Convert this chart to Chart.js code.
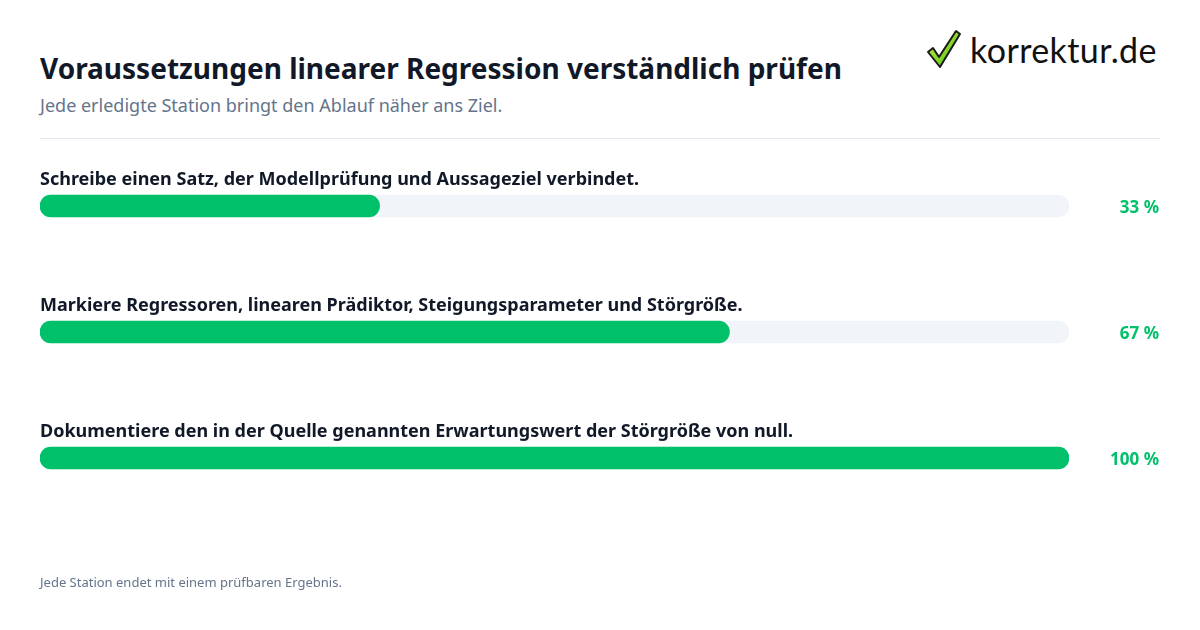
<!DOCTYPE html>
<html lang="de">
<head>
<meta charset="utf-8">
<script src="https://cdn.jsdelivr.net/npm/chart.js@4/dist/chart.umd.min.js"></script>
<style>
	html, body { margin: 0; padding: 0; background: #ffffff; }
	body { width: 1200px; height: 630px; position: relative; overflow: hidden; font-family: 'Noto Sans', sans-serif; }
	.title { position: absolute; left: 40px; top: 49px; margin: 0; font-size: 28px; font-weight: 700; color: #111827; }
	.subtitle { position: absolute; left: 40px; top: 93px; margin: 0; font-size: 18px; color: #64748b; }
	.divider { position: absolute; left: 40px; right: 40px; top: 138px; height: 1px; background: #e2e8f0; }
	.footer { position: absolute; left: 40px; top: 573px; margin: 0; font-size: 13px; color: #64748b; }
	.logo { position: absolute; left: 926px; top: 28px; display: flex; align-items: center; gap: 8px; }
	.logo span { font-family: 'Lato', sans-serif; font-size: 34px; color: #111111; letter-spacing: 0.4px; }
	.chart-wrap { position: absolute; left: 0; top: 0; width: 1200px; height: 630px; }
</style>
</head>
<body>
	<h1 class="title">Voraussetzungen linearer Regression verständlich prüfen</h1>
	<p class="subtitle">Jede erledigte Station bringt den Ablauf näher ans Ziel.</p>
	<div class="divider"></div>
	<div class="logo">
		<svg width="36" height="42" viewBox="0 0 36 42" aria-hidden="true">
			<defs>
				<linearGradient id="chk" x1="0" y1="0" x2="1" y2="1">
					<stop offset="0" stop-color="#c8f542"></stop>
					<stop offset="1" stop-color="#4cb814"></stop>
				</linearGradient>
			</defs>
			<path d="M2 24 L7 20 L13 29 L30 3 L34 6 L14 39 Z" fill="url(#chk)" stroke="#1a1a1a" stroke-width="2" stroke-linejoin="round"></path>
		</svg>
		<span>korrektur.de</span>
	</div>
	<div class="chart-wrap"><canvas id="progress"></canvas></div>
	<p class="footer">Jede Station endet mit einem prüfbaren Ergebnis.</p>

<script>
const categories = [
	'Schreibe einen Satz, der Modellprüfung und Aussageziel verbindet.',
	'Markiere Regressoren, linearen Prädiktor, Steigungsparameter und Störgröße.',
	'Dokumentiere den in der Quelle genannten Erwartungswert der Störgröße von null.',
];
const progressValues = [33, 67, 100];
const trackValues = [100, 100, 100];

const GREEN = '#00c16a';

// Text über jedem Balken und Prozentwert rechts daneben
const rowLabels = {
	id: 'rowLabels',
	afterDatasetsDraw(chart) {
		const { ctx, chartArea } = chart;
		const meta = chart.getDatasetMeta(1);

		ctx.save();
		meta.data.forEach((bar, index) => {
			ctx.font = '700 18px "Noto Sans"';
			ctx.fillStyle = '#111827';
			ctx.textAlign = 'left';
			ctx.textBaseline = 'middle';
			ctx.fillText(categories[index], chartArea.left, bar.y - 26);

			ctx.font = '700 17px "Noto Sans"';
			ctx.fillStyle = GREEN;
			ctx.textAlign = 'right';
			ctx.fillText(`${progressValues[index]} %`, 1159, bar.y + 2);
		});
		ctx.restore();
	},
};

new Chart(document.getElementById('progress'), {
	type: 'bar',
	data: {
		labels: categories,
		datasets: [
			{
				data: trackValues,
				backgroundColor: '#f1f5f9',
				borderRadius: 11,
				borderSkipped: false,
				barThickness: 22,
				order: 2,
			},
			{
				data: progressValues,
				backgroundColor: GREEN,
				borderRadius: 11,
				borderSkipped: false,
				barThickness: 22,
				order: 1,
			},
		],
	},
	options: {
		indexAxis: 'y',
		responsive: true,
		maintainAspectRatio: false,
		animation: false,
		grouped: false,
		layout: {
			padding: { left: 40, right: 131, top: 143, bottom: 109 },
		},
		plugins: {
			legend: { display: false },
			tooltip: { enabled: false },
		},
		scales: {
			x: { display: false, min: 0, max: 100 },
			y: { display: false },
		},
	},
	plugins: [rowLabels],
});
</script>
</body>
</html>
